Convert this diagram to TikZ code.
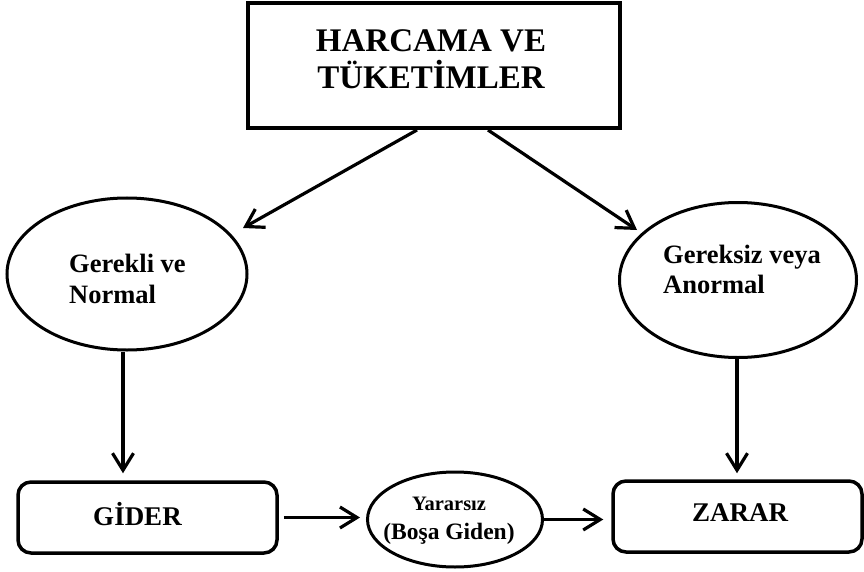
\documentclass[tikz,border=0pt]{standalone}
\usepackage{fontspec}
\setmainfont{Liberation Serif}
\usetikzlibrary{shapes.geometric,arrows.meta}

\tikzset{
  box/.style={draw, line width=4pt, rectangle, inner sep=0pt},
  oval/.style={draw, line width=3pt, ellipse, inner sep=0pt},
  roundbox/.style={draw, line width=3.5pt, rectangle, rounded corners=13pt, inner sep=0pt},
  lbl/.style={inner sep=0pt, font=\bfseries},
  arr/.style={line width=3.2pt, -{Straight Barb[length=17pt,width=21pt,line width=3.2pt]}},
}

\begin{document}
\begin{tikzpicture}[x=1pt, y=-1pt]
  \useasboundingbox[fill=white] (0,0) rectangle (864,572);

  % shapes
  \node[box, minimum width=372pt, minimum height=125pt] (top) at (434,65.5) {};
  \node[oval, minimum width=240pt, minimum height=152pt] (lft) at (127,274) {};
  \node[oval, minimum width=237pt, minimum height=155pt] (rgt) at (738,280) {};
  \node[roundbox, minimum width=259pt, minimum height=71pt] (gider) at (147.5,517.5) {};
  \node[oval, minimum width=175pt, minimum height=95pt] (yar) at (455,519.5) {};
  \node[roundbox, minimum width=249pt, minimum height=71pt] (zarar) at (737.5,516.5) {};

  % texts
  \node[lbl, align=center, font=\bfseries\fontsize{33}{37}\selectfont] (topT) at (431,59) {HARCAMA VE\\TÜKETİMLER};
  \node[lbl, align=left, font=\bfseries\fontsize{26.5}{31}\selectfont] (lftT) at (127.5,279) {Gerekli ve\\Normal};
  \node[lbl, align=left, font=\bfseries\fontsize{26.5}{30}\selectfont] (rgtT) at (742,269.5) {Gereksiz veya\\Anormal};
  \node[lbl, anchor=base, font=\bfseries\fontsize{27}{30}\selectfont] (giderT) at (137.5,525) {GİDER};
  \node[lbl, anchor=base, font=\bfseries\fontsize{27}{30}\selectfont] (zararT) at (740,521) {ZARAR};
  \node[lbl, align=center, font=\bfseries\fontsize{20.5}{29}\selectfont] (yarT) at (449,521)
    {Yararsız\\{\fontsize{23.5}{29}\selectfont (Boşa Giden)}};

  % free ends of the two slanted arrows
  \coordinate (tipL) at (243,228);
  \coordinate (tipR) at (637,230);

  % connectors
  \draw[arr] ([xshift=-17pt]top.south) -- (tipL);
  \draw[arr] ([xshift=54pt]top.south) -- (tipR);
  \draw[arr, shorten >=7pt] ([xshift=-4pt]lft.south) -- ([xshift=-4pt]lft.south |- gider.north);
  \draw[arr, shorten >=6pt] ([xshift=-1pt]rgt.south) -- ([xshift=-1pt]rgt.south |- zarar.north);
  \draw[arr, shorten <=5pt, shorten >=6pt] (gider.east) -- (gider.east -| yar.west);
  \draw[arr, shorten >=8pt] (yar.east) -- (yar.east -| zarar.west);
\end{tikzpicture}
\end{document}
